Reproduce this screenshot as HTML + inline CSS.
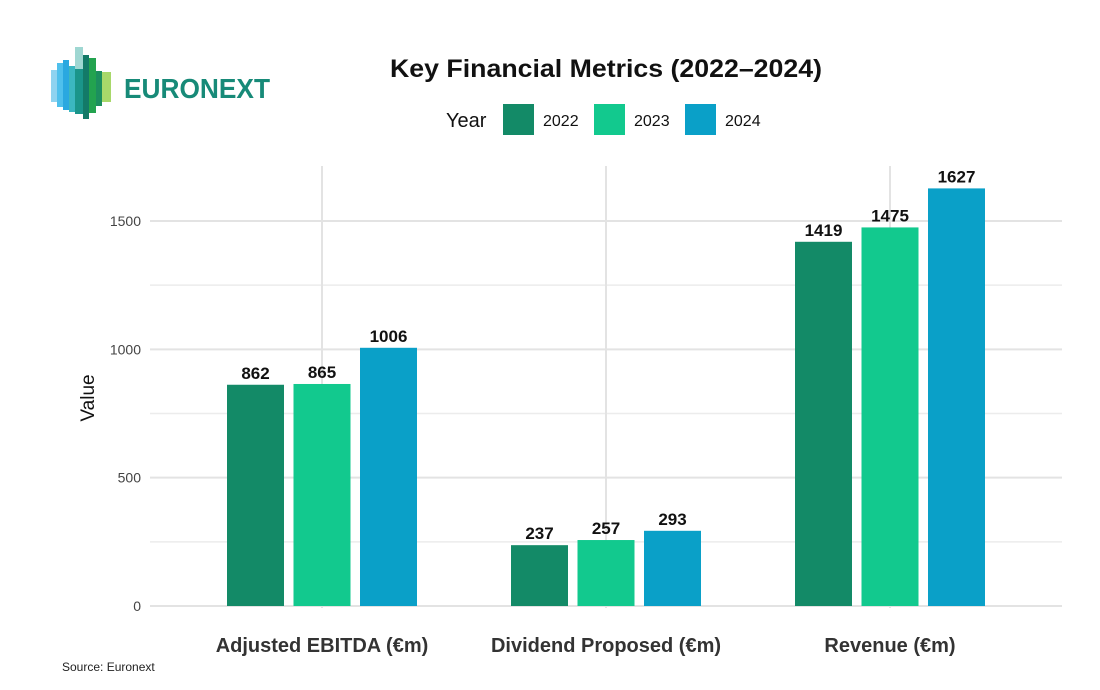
<!DOCTYPE html>
<html><head><meta charset="utf-8"><style>
body{margin:0;background:#fff;width:1100px;height:685px;overflow:hidden;font-family:"Liberation Sans",sans-serif}
</style></head><body>
<svg id="c" width="1100" height="685">
<g>
<rect x="51" y="70" width="6" height="32" fill="#8fd3f0"/>
<rect x="57" y="63" width="6" height="44" fill="#4fc0ec"/>
<rect x="63" y="60" width="6" height="50" fill="#2aa8e0"/>
<rect x="69" y="66" width="6" height="46" fill="#3bb7c0"/>
<rect x="75" y="47" width="8" height="22" fill="#9fd7d2"/>
<rect x="75" y="69" width="8" height="45" fill="#1a958a"/>
<rect x="83" y="55" width="6" height="64" fill="#137a68"/>
<rect x="89" y="58" width="7" height="55" fill="#23a34f"/>
<rect x="96" y="71" width="6" height="35" fill="#1c8f5e"/>
<rect x="102" y="72" width="9" height="30" fill="#a8d86a"/>
<text x="124" y="98" font-size="28" font-weight="bold" fill="#178a78" textLength="146" lengthAdjust="spacingAndGlyphs">EURONEXT</text>
</g>
<text x="606" y="77" text-anchor="middle" font-size="25" font-weight="bold" fill="#111" textLength="432" lengthAdjust="spacingAndGlyphs">Key Financial Metrics (2022–2024)</text>
<g id="legend"></g>
<g id="grid"></g>
<g id="bars"></g>
<text transform="translate(94,398) rotate(-90)" text-anchor="middle" font-size="19" fill="#111">Value</text>
<text x="62" y="671" font-size="12" fill="#222">Source: Euronext</text>
</svg>
<script>
const categories=["Adjusted EBITDA (€m)","Dividend Proposed (€m)","Revenue (€m)"];
const years=["2022","2023","2024"];
const v2022=[862,237,1419];
const v2023=[865,257,1475];
const v2024=[1006,293,1627];
const yTicks=[0,500,1000,1500];
const colors=["#138a67","#12c98e","#0aa0c8"];
const series=[v2022,v2023,v2024];
const NS="http://www.w3.org/2000/svg";
const y=v=>606-v*385/1500;
const x=i=>322+i*284;
function mk(tag,attrs,parent){const e=document.createElementNS(NS,tag);for(const k in attrs)e.setAttribute(k,attrs[k]);parent.appendChild(e);return e;}
const grid=document.getElementById('grid'),bars=document.getElementById('bars'),leg=document.getElementById('legend');
for(let t=0;t<yTicks.length;t++){
 const v=yTicks[t];
 const l=mk('line',{x1:150,x2:1062,y1:y(v),y2:y(v),stroke:'#e3e3e3','stroke-width':2},grid);
 
 
 if(t<yTicks.length-1){const m=mk('line',{x1:150,x2:1062,y1:y(v+250),y2:y(v+250),stroke:'#ececec','stroke-width':1.5},grid);
 
 }
 const tx=mk('text',{x:141,y:y(v)+5,'text-anchor':'end','font-size':14,fill:'#444'},grid);tx.textContent=v;
 
 
}
categories.forEach((c,i)=>{
 const g=mk('line',{x1:x(i),x2:x(i),y1:166,y2:608,stroke:'#e3e3e3','stroke-width':2},grid);
 
 
 const t=mk('text',{x:x(i),y:652,'text-anchor':'middle','font-size':20,'font-weight':'bold',fill:'#333'},grid);t.textContent=c;
 
 
 series.forEach((s,j)=>{
  const cx=x(i)+(j-1)*66.5;
  const r=mk('rect',{x:cx-28.5,y:y(s[i]),width:57,height:606-y(s[i]),fill:colors[j]},bars);
  
  
  const lb=mk('text',{x:cx,y:y(s[i])-6,'text-anchor':'middle','font-size':17,'font-weight':'bold',fill:'#111'},bars);lb.textContent=s[i];
  
  
 });
});
const lt=mk('text',{x:446,y:127,'font-size':20,fill:'#111'},leg);lt.textContent="Year";


years.forEach((yr,j)=>{
 const bx=503+j*91;
 const r=mk('rect',{x:bx,y:104,width:31,height:31,fill:colors[j]},leg);
 
 
 const t=mk('text',{x:bx+40,y:126,'font-size':16,fill:'#111'},leg);t.textContent=yr;
 
 
});
</script>
</body></html>
